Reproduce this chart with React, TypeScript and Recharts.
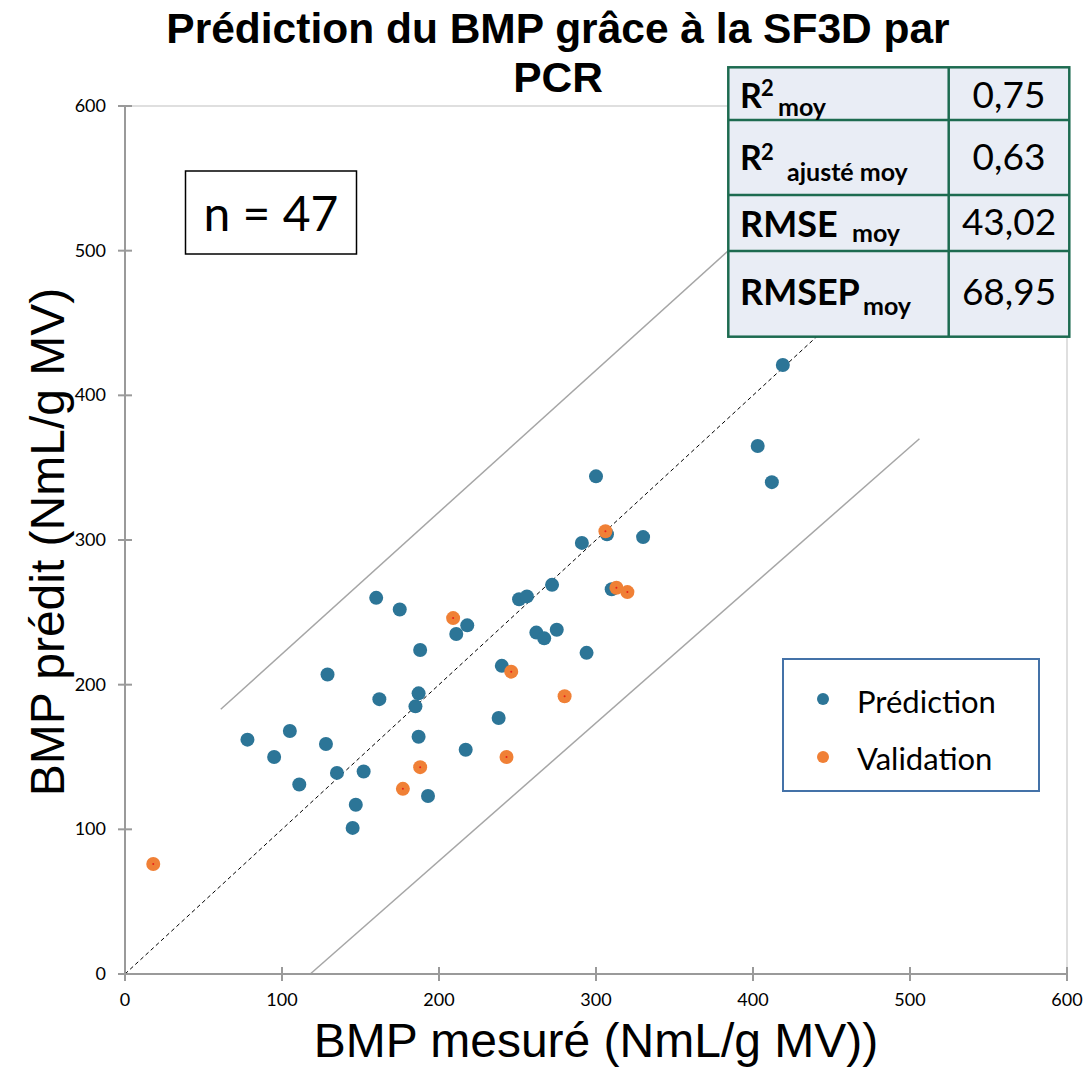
import React from 'react';
import { ScatterChart, Scatter, XAxis, YAxis, ReferenceLine, Legend } from 'recharts';

const predMeasured = [78, 95, 105, 111, 128, 129, 135, 147, 145, 152, 160, 162, 175, 185, 187, 187, 188, 193, 211, 217, 218, 238, 240, 251, 256, 262, 267, 272, 275, 291, 294, 300, 307, 310, 330, 403, 412, 419];
const predPredicted = [162, 150, 168, 131, 159, 207, 139, 117, 101, 140, 260, 190, 252, 185, 194, 164, 224, 123, 235, 155, 241, 177, 213, 259, 261, 236, 232, 269, 238, 298, 222, 344, 304, 266, 302, 365, 340, 421];
const valMeasured = [18, 177, 188, 209, 243, 246, 280, 306, 313, 320];
const valPredicted = [76, 128, 143, 246, 150, 209, 192, 306, 267, 264];

const axisTicks = [0, 100, 200, 300, 400, 500, 600];
const diagonalLine = [{ x: 0, y: 0 }, { x: 460, y: 460 }];
const upperLine = [{ x: 61, y: 183 }, { x: 420, y: 535 }];
const lowerLine = [{ x: 118, y: 0 }, { x: 506, y: 370 }];

const statValues = ['0,75', '0,63', '43,02', '68,95'];

const seriesNames = ['Prédiction', 'Validation'];
const BLUE = '#2C7597';
const ORANGE = '#F08036';

const predData = predMeasured.map((x, i) => ({ x, y: predPredicted[i] }));
const valData = valMeasured.map((x, i) => ({ x, y: valPredicted[i] }));

const AXIS = '#9a9a9a';

const YTick = (props: any) => {
  const { x, y, payload } = props;
  return (
    <g>
      <line x1={x - 7} x2={x + 7} y1={y} y2={y} stroke={AXIS} strokeWidth={2} />
      <text x={x - 19} y={y} dy={6} textAnchor="end" fontSize={18} fontFamily="Lato" fill="#000">{payload.value}</text>
    </g>
  );
};

const XTick = (props: any) => {
  const { x, y, payload } = props;
  return (
    <g>
      <line x1={x} x2={x} y1={y - 7} y2={y + 7} stroke={AXIS} strokeWidth={2} />
      <text x={x} y={y + 32} textAnchor="middle" fontSize={18} fontFamily="Lato" fill="#000">{payload.value}</text>
    </g>
  );
};

const BlueDot = (props: any) => <circle cx={props.cx} cy={props.cy} r={7} fill={BLUE} />;
const OrangeDot = (props: any) => (
  <g>
    <circle cx={props.cx} cy={props.cy} r={7} fill={ORANGE} />
    <circle cx={props.cx} cy={props.cy} r={1} fill="#E8201A" />
  </g>
);

const LegendBox = () => (
  <svg width={258} height={134} style={{ display: 'block' }}>
    <rect x={1} y={1} width={256} height={132} fill="#fff" stroke="#4472A8" strokeWidth={2} />
    <circle cx={41} cy={41} r={6} fill={BLUE} />
    <text x={75} y={55} fontFamily="Lato" fontSize={31} fill="#000">{seriesNames[0]}</text>
    <circle cx={41} cy={99} r={6} fill={ORANGE} />
    <text x={75} y={112} fontFamily="Lato" fontSize={31} fill="#000">{seriesNames[1]}</text>
  </svg>
);

const TL = 728.3, TR = 1069.3, TT = 67.3, TB = 336.7, TC = 948.7;
const rowLines = [120, 195, 251];

export default function App() {
  return (
    <div style={{ position: 'absolute', left: 0, top: 0, width: 1086, height: 1070, background: '#fff' }}>
      <ScatterChart width={1086} height={1070} margin={{ top: 106, right: 19, bottom: 0, left: 0 }}>
        <XAxis type="number" dataKey="x" domain={[0, 600]} ticks={axisTicks} height={96}
          axisLine={{ stroke: AXIS, strokeWidth: 2 }} tickLine={false} tickSize={0} tickMargin={0}
          tick={<XTick />} interval={0} allowDataOverflow />
        <YAxis type="number" dataKey="y" domain={[0, 600]} ticks={axisTicks} width={125}
          axisLine={{ stroke: AXIS, strokeWidth: 2 }} tickLine={false} tickSize={0} tickMargin={0}
          tick={<YTick />} interval={0} allowDataOverflow />
        <ReferenceLine y={600} stroke="#d4d4d4" strokeWidth={1.5} />
        <ReferenceLine x={600} stroke="#d4d4d4" strokeWidth={1.5} />
        <ReferenceLine segment={upperLine} stroke="#a6a6a6" strokeWidth={1.5} ifOverflow="visible" />
        <ReferenceLine segment={lowerLine} stroke="#a6a6a6" strokeWidth={1.5} ifOverflow="visible" />
        <ReferenceLine segment={diagonalLine} stroke="#000" strokeWidth={1} strokeDasharray="4 3" ifOverflow="visible" />
        <Scatter name={seriesNames[0]} data={predData} fill={BLUE} shape={<BlueDot />} isAnimationActive={false} />
        <Scatter name={seriesNames[1]} data={valData} fill={ORANGE} shape={<OrangeDot />} isAnimationActive={false} />
        <Legend layout="horizontal" align="center" verticalAlign="middle" width={258} height={134}
          wrapperStyle={{ left: 782, top: 658, width: 258, height: 134 }} content={<LegendBox />} />
      </ScatterChart>
      <svg width={1086} height={1070} style={{ position: 'absolute', left: 0, top: 0, pointerEvents: 'none' }}>
        <text x={558} y={43} textAnchor="middle" fontFamily="Liberation Sans" fontWeight="bold" fontSize={42.5} fill="#000">Prédiction du BMP grâce à la SF3D par</text>
        <text x={558} y={92} textAnchor="middle" fontFamily="Liberation Sans" fontWeight="bold" fontSize={42.5} fill="#000">PCR</text>

        <text x={596} y={1057} textAnchor="middle" fontFamily="Liberation Sans" fontSize={48} fill="#000">BMP mesuré (NmL/g MV))</text>
        <text transform="translate(64,542) rotate(-90)" textAnchor="middle" fontFamily="Liberation Sans" fontSize={48} fill="#000">BMP prédit (NmL/g MV)</text>

        <rect x={185.5} y={171} width={171} height={83} fill="#fff" stroke="#000" strokeWidth={1.5} />
        <text x={271} y={231} textAnchor="middle" fontFamily="Lato" fontSize={48} fill="#000">n = 47</text>

        <rect x={TL} y={TT} width={TR - TL} height={TB - TT} fill="#E9EDF5" stroke="#1D6B50" strokeWidth={2.5} />
        <line x1={TC} x2={TC} y1={TT} y2={TB} stroke="#1D6B50" strokeWidth={2.5} />
        {rowLines.map((y) => <line key={y} x1={TL} x2={TR} y1={y} y2={y} stroke="#1D6B50" strokeWidth={2.5} />)}

        <g fontFamily="Lato" fontWeight="bold" fill="#000">
          <text x={740} y={108} fontSize={34}>R</text>
          <text x={761} y={96} fontSize={22}>2</text>
          <text x={778} y={116} fontSize={25}>moy</text>

          <text x={740} y={170} fontSize={34}>R</text>
          <text x={761} y={160} fontSize={22}>2</text>
          <text x={787} y={181} fontSize={25}>ajusté moy</text>

          <text x={740} y={237} fontSize={36}>RMSE</text>
          <text x={852} y={242} fontSize={25}>moy</text>

          <text x={740} y={305} fontSize={36}>RMSEP</text>
          <text x={863} y={315} fontSize={25}>moy</text>
        </g>
        <g fontFamily="Lato" fontSize={37} fill="#000" textAnchor="middle">
          <text x={1009} y={108}>{statValues[0]}</text>
          <text x={1009} y={170}>{statValues[1]}</text>
          <text x={1009} y={235}>{statValues[2]}</text>
          <text x={1009} y={305}>{statValues[3]}</text>
        </g>
      </svg>
    </div>
  );
}
